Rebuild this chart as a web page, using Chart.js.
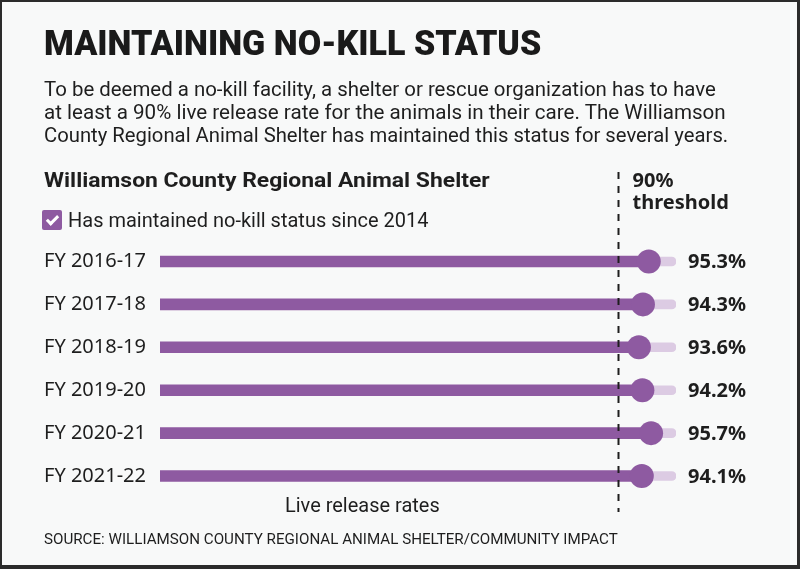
<!DOCTYPE html>
<html>
<head>
<meta charset="utf-8">
<script src="https://cdn.jsdelivr.net/npm/chart.js@4"></script>
<style>
  html, body { margin: 0; padding: 0; background: #f8f9f9; }
  #page { position: relative; width: 800px; height: 569px; overflow: hidden; background: #f8f9f9; }
  #chartBox { position: absolute; left: 0; top: 0; width: 800px; height: 569px; }
  #frame { position: absolute; left: 0; top: 0; width: 800px; height: 569px; box-sizing: border-box;
           border-style: solid; border-color: #2b2b2b; border-width: 2px 3px 4px 2px; pointer-events: none; }
  .t { position: absolute; white-space: nowrap; line-height: 1; color: #1e1e1e;
       font-family: Roboto, sans-serif; transform-origin: 0 0; }
  #title { font-weight: 900; font-size: 35px; color: #1a1a1a; }
  .body { font-size: 21px; }
  #head { font-weight: 700; font-size: 21px; }
  #src { font-size: 15px; }
  #check { position: absolute; left: 42px; top: 210px; width: 20px; height: 20px; background: #8e5aa1; border-radius: 2px; }
  #check:after { content: ""; position: absolute; left: 7px; top: 3px; width: 4px; height: 9px;
                 border: solid #fff; border-width: 0 3px 3px 0; transform: rotate(45deg); }
</style>
</head>
<body>
<div id="page">
  <div id="chartBox"><canvas id="chart"></canvas></div>
  <div class="t" id="title" data-w="497" style="left:44px;top:25.5px">MAINTAINING NO-KILL STATUS</div>
  <div class="t body" data-w="672" style="left:44px;top:78.5px">To be deemed a no-kill facility, a shelter or rescue organization has to have</div>
  <div class="t body" data-w="682" style="left:44px;top:101.5px">at least a 90% live release rate for the animals in their care. The Williamson</div>
  <div class="t body" data-w="684" style="left:44px;top:124.5px">County Regional Animal Shelter has maintained this status for several years.</div>
  <div class="t" id="head" data-w="446" style="left:44px;top:170.3px">Williamson County Regional Animal Shelter</div>
  <div id="check"></div>
  <div class="t body" data-w="360" style="left:68px;top:210.3px">Has maintained no-kill status since 2014</div>
  <div class="t body" data-w="155" style="left:285px;top:495.3px">Live release rates</div>
  <div class="t" id="src" data-w="574" style="left:44px;top:532.4px">SOURCE: WILLIAMSON COUNTY REGIONAL ANIMAL SHELTER/COMMUNITY IMPACT</div>
  <div id="frame"></div>
</div>
<script>
// fit the condensed headline/body text to the widths in the original
document.querySelectorAll('.t').forEach(function (el) {
    var w = parseFloat(el.dataset.w);
    el.style.transform = 'scaleX(' + (w / el.scrollWidth) + ')';
});

var years = ['FY 2016-17', 'FY 2017-18', 'FY 2018-19', 'FY 2019-20', 'FY 2020-21', 'FY 2021-22'];
var releaseRates = [95.3, 94.3, 93.6, 94.2, 95.7, 94.1];
var threshold = 90;
var scaleMin = 11;
var scaleMax = 100;

var darkPurple = '#8e5aa1';
var lightPurple = '#dccbe3';

var thresholdPlugin = {
    id: 'threshold',
    afterDatasetsDraw: function (chart) {
        var ctx = chart.ctx;
        var x = chart.scales.x;
        var y = chart.scales.y;
        var tx = Math.round(x.getPixelForValue(threshold)) + 0.5;

        ctx.save();
        ctx.strokeStyle = '#1e1e1e';
        ctx.lineWidth = 2;
        ctx.setLineDash([7, 7]);
        ctx.beginPath();
        ctx.moveTo(tx, 172);
        ctx.lineTo(tx, 512);
        ctx.stroke();
        ctx.setLineDash([]);

        ctx.fillStyle = '#1e1e1e';
        ctx.font = 'bold 20px "Noto Sans"';
        ctx.textAlign = 'left';
        ctx.textBaseline = 'alphabetic';
        ctx.fillText(threshold + '%', tx + 14, 187);
        ctx.fillText('threshold', tx + 14, 209);

        ctx.textBaseline = 'middle';
        releaseRates.forEach(function (v, i) {
            ctx.fillText(v.toFixed(1) + '%', 688, y.getPixelForValue(i) + 1);
        });
        ctx.restore();
    }
};

var chart = new Chart(document.getElementById('chart'), {
    type: 'bar',
    data: {
        labels: years,
        datasets: [
            {
                // light track behind each bar
                data: years.map(function () { return scaleMax; }),
                backgroundColor: lightPurple,
                barThickness: 9,
                borderRadius: 5,
                borderSkipped: false,
                grouped: false,
                order: 3
            },
            {
                data: releaseRates,
                backgroundColor: darkPurple,
                barThickness: 11,
                borderRadius: 6,
                borderSkipped: false,
                grouped: false,
                order: 2
            },
            {
                type: 'line',
                indexAxis: 'y',
                data: releaseRates,
                showLine: false,
                pointRadius: 12,
                pointBackgroundColor: darkPurple,
                pointBorderWidth: 0,
                order: 1
            }
        ]
    },
    options: {
        indexAxis: 'y',
        responsive: true,
        maintainAspectRatio: false,
        animation: false,
        layout: { padding: { left: 44, right: 124, top: 240, bottom: 71.5 } },
        scales: {
            x: { type: 'linear', min: scaleMin, max: scaleMax, display: false },
            y: {
                grid: { display: false },
                border: { display: false },
                ticks: { crossAlign: 'far', padding: 0, color: '#1e1e1e', font: { family: '"Noto Sans"', size: 20 } },
                afterFit: function (scale) { scale.width = 116; }
            }
        },
        plugins: {
            legend: { display: false },
            tooltip: { enabled: false }
        }
    },
    plugins: [thresholdPlugin]
});
</script>
</body>
</html>
